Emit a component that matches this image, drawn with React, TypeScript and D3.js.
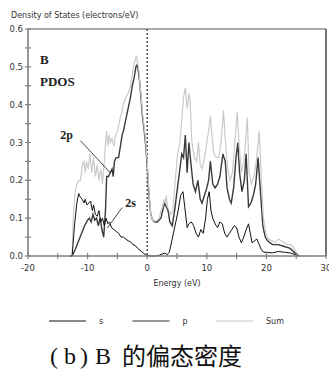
import React, { useEffect, useRef } from 'react';
import * as d3 from 'd3';

// partial DOS of B: [energy eV, electrons/eV]
const sCurve: [number, number][] = [
  [-13, 0], [-12.6, 0], [-12.2, 0.08], [-11.8, 0.14], [-11.5, 0.165], [-11.2, 0.155], [-10.9, 0.15],
  [-10.6, 0.14], [-10.4, 0.15], [-10.1, 0.135], [-9.8, 0.14], [-9.5, 0.145], [-9.2, 0.12], [-9.0, 0.135],
  [-8.7, 0.11], [-8.4, 0.105], [-8.1, 0.12], [-7.8, 0.09], [-7.5, 0.1], [-7.2, 0.08], [-6.9, 0.1],
  [-6.6, 0.085], [-6.3, 0.09], [-6.0, 0.075], [-5.6, 0.07], [-5.2, 0.065], [-4.8, 0.06], [-4.4, 0.05],
  [-4.0, 0.05], [-3.6, 0.045], [-3.2, 0.04], [-2.8, 0.038], [-2.4, 0.03], [-2.0, 0.028], [-1.6, 0.02],
  [-1.2, 0.015], [-0.8, 0.01], [-0.4, 0.005], [0, 0.002], [0.5, 0], [1, 0], [1.5, 0], [2, 0.002],
  [2.5, 0.005], [3, 0.008], [3.3, 0.003], [3.7, 0.01], [4, 0.03], [4.4, 0.06], [4.8, 0.09], [5.2, 0.12],
  [5.6, 0.16], [6.0, 0.17], [6.3, 0.13], [6.7, 0.075], [7.0, 0.085], [7.4, 0.09], [7.8, 0.08], [8.2, 0.06],
  [8.6, 0.05], [9.0, 0.07], [9.4, 0.06], [9.8, 0.1], [10.1, 0.15], [10.4, 0.17], [10.7, 0.12], [11.0, 0.1],
  [11.4, 0.085], [11.8, 0.075], [12.2, 0.09], [12.6, 0.085], [13.0, 0.06], [13.4, 0.05], [13.8, 0.06],
  [14.2, 0.07], [14.6, 0.08], [15.0, 0.075], [15.4, 0.05], [15.8, 0.035], [16.2, 0.05], [16.6, 0.07],
  [17.0, 0.085], [17.3, 0.06], [17.6, 0.035], [18.0, 0.04], [18.4, 0.045], [18.8, 0.03], [19.2, 0.015],
  [19.6, 0.01], [20, 0.01], [21, 0.008], [22, 0.012], [23, 0.01], [24, 0.008], [25, 0.003], [25.5, 0],
];

const pCurve: [number, number][] = [
  [-13, 0], [-12.6, 0], [-12, 0.02], [-11.5, 0.04], [-11, 0.06], [-10.5, 0.08], [-10, 0.095], [-9.7, 0.1],
  [-9.4, 0.09], [-9.1, 0.11], [-8.8, 0.095], [-8.5, 0.1], [-8.2, 0.08], [-7.9, 0.1], [-7.6, 0.07],
  [-7.3, 0.05], [-7.0, 0.12], [-6.8, 0.21], [-6.5, 0.21], [-6.2, 0.22], [-5.9, 0.23], [-5.7, 0.21],
  [-5.5, 0.25], [-5.2, 0.26], [-4.8, 0.26], [-4.5, 0.29], [-4.2, 0.32], [-4.0, 0.33], [-3.6, 0.36],
  [-3.2, 0.39], [-2.8, 0.42], [-2.5, 0.45], [-2.2, 0.47], [-1.9, 0.5], [-1.7, 0.505], [-1.5, 0.49],
  [-1.3, 0.465], [-1.0, 0.41], [-0.8, 0.37], [-0.5, 0.33], [-0.3, 0.3], [0, 0.24], [0.3, 0.16], [0.6, 0.11],
  [0.9, 0.095], [1.3, 0.09], [1.7, 0.09], [2.0, 0.095], [2.3, 0.1], [2.6, 0.12], [2.9, 0.14], [3.2, 0.13],
  [3.5, 0.12], [3.8, 0.09], [4.2, 0.08], [4.6, 0.12], [5.0, 0.17], [5.4, 0.22], [5.8, 0.27], [6.1, 0.26],
  [6.4, 0.32], [6.7, 0.22], [7.0, 0.3], [7.3, 0.25], [7.7, 0.19], [8.1, 0.17], [8.5, 0.2], [8.9, 0.15],
  [9.2, 0.14], [9.6, 0.16], [10.0, 0.18], [10.3, 0.2], [10.6, 0.25], [11.0, 0.19], [11.4, 0.18],
  [11.8, 0.19], [12.2, 0.21], [12.7, 0.27], [13.1, 0.25], [13.4, 0.18], [13.8, 0.15], [14.1, 0.14],
  [14.5, 0.18], [14.9, 0.26], [15.2, 0.3], [15.5, 0.22], [15.9, 0.17], [16.3, 0.2], [16.6, 0.27],
  [17.0, 0.13], [17.4, 0.14], [17.8, 0.16], [18.2, 0.19], [18.6, 0.26], [19.0, 0.17], [19.4, 0.08],
  [19.8, 0.05], [20.2, 0.04], [21, 0.03], [22, 0.03], [23, 0.025], [24, 0.02], [25, 0.005], [25.5, 0],
];

const sumCurve: [number, number][] = [
  [-13, 0], [-12.6, 0], [-12.4, 0.1], [-12.1, 0.17], [-11.8, 0.19], [-11.5, 0.2], [-11.2, 0.2],
  [-10.9, 0.24], [-10.6, 0.25], [-10.4, 0.22], [-10.2, 0.25], [-9.9, 0.23], [-9.6, 0.27], [-9.3, 0.22],
  [-9.0, 0.26], [-8.7, 0.21], [-8.4, 0.24], [-8.1, 0.2], [-7.8, 0.23], [-7.5, 0.19], [-7.2, 0.25],
  [-7.0, 0.3], [-6.8, 0.33], [-6.6, 0.29], [-6.4, 0.32], [-6.2, 0.3], [-5.9, 0.31], [-5.6, 0.29],
  [-5.3, 0.32], [-5.0, 0.33], [-4.6, 0.36], [-4.2, 0.385], [-4.0, 0.4], [-3.6, 0.42], [-3.2, 0.43],
  [-2.8, 0.45], [-2.5, 0.48], [-2.3, 0.5], [-2.0, 0.52], [-1.8, 0.53], [-1.6, 0.51], [-1.4, 0.49],
  [-1.2, 0.45], [-1.0, 0.42], [-0.8, 0.38], [-0.5, 0.34], [-0.3, 0.31], [0, 0.25], [0.3, 0.17], [0.6, 0.11],
  [0.9, 0.095], [1.3, 0.092], [1.7, 0.095], [2.0, 0.1], [2.3, 0.12], [2.6, 0.13], [2.8, 0.15], [3.0, 0.14],
  [3.2, 0.16], [3.4, 0.13], [3.7, 0.12], [4.0, 0.11], [4.3, 0.12], [4.7, 0.2], [5.1, 0.27], [5.5, 0.3],
  [5.8, 0.36], [6.1, 0.42], [6.4, 0.445], [6.7, 0.39], [7.0, 0.43], [7.2, 0.41], [7.5, 0.3], [7.9, 0.26],
  [8.3, 0.25], [8.6, 0.3], [8.9, 0.24], [9.2, 0.23], [9.6, 0.26], [10.0, 0.3], [10.3, 0.33], [10.6, 0.37],
  [10.9, 0.31], [11.2, 0.27], [11.6, 0.26], [12.0, 0.26], [12.4, 0.3], [12.8, 0.385], [13.1, 0.31],
  [13.5, 0.23], [13.9, 0.2], [14.3, 0.22], [14.7, 0.3], [15.1, 0.38], [15.4, 0.3], [15.8, 0.22],
  [16.2, 0.25], [16.5, 0.3], [16.8, 0.365], [17.1, 0.22], [17.5, 0.19], [17.9, 0.21], [18.3, 0.25],
  [18.8, 0.33], [19.1, 0.22], [19.5, 0.1], [19.9, 0.06], [20.3, 0.045], [21, 0.04], [21.5, 0.035],
  [22, 0.045], [22.5, 0.04], [23, 0.035], [23.5, 0.03], [24, 0.03], [24.5, 0.025], [25, 0.01], [25.5, 0],
  [28, 0],
];

const xTicks = [-20, -10, 0, 10, 20, 30];
const xMinorTicks = [-15, -5, 5, 15, 25];
const yTicks = [0, 0.1, 0.2, 0.3, 0.4, 0.5, 0.6];
const yMinorTicks = [0.05, 0.15, 0.25, 0.35, 0.45, 0.55];

const legendItems = [
  { name: 's', color: '#111' },
  { name: 'p', color: '#333' },
  { name: 'Sum', color: '#c8c8c8' },
];

const W = 329;
const H = 372;
const SANS = 'DejaVu Sans, Verdana, sans-serif';
const SERIF = 'Liberation Serif, Times New Roman, serif';

const App: React.FC = () => {
  const ref = useRef<SVGSVGElement>(null);

  useEffect(() => {
    const svg = d3.select(ref.current).attr('width', W).attr('height', H);
    svg.selectAll('*').remove();

    const x = d3.scaleLinear().domain([-20, 30]).range([28, 326]);
    const y = d3.scaleLinear().domain([0, 0.6]).range([256, 29]);

    const line = d3
      .line<[number, number]>()
      .x((d) => x(d[0]))
      .y((d) => y(d[1]));

    // top + right frame
    svg.append('line').attr('x1', x(-20)).attr('x2', x(30)).attr('y1', y(0.6)).attr('y2', y(0.6))
      .attr('stroke', '#555').attr('stroke-width', 1);
    svg.append('line').attr('x1', x(30)).attr('x2', x(30)).attr('y1', y(0.6)).attr('y2', y(0))
      .attr('stroke', '#444').attr('stroke-width', 1.5);

    // fermi level
    svg.append('line').attr('x1', x(0)).attr('x2', x(0)).attr('y1', y(0.6)).attr('y2', y(0))
      .attr('stroke', '#555').attr('stroke-width', 1.5).attr('stroke-dasharray', '2,2');

    // curves
    svg.append('path').datum(pCurve).attr('d', line).attr('fill', 'none')
      .attr('stroke', '#3a3a3a').attr('stroke-width', 1.4);
    svg.append('path').datum(sumCurve).attr('d', line).attr('fill', 'none')
      .attr('stroke', '#cacaca').attr('stroke-width', 1.2);
    svg.append('path').datum(sCurve).attr('d', line).attr('fill', 'none')
      .attr('stroke', '#111').attr('stroke-width', 1);

    // axes
    const axisColor = '#808080';
    svg.append('line').attr('x1', x(-20)).attr('x2', x(-20)).attr('y1', y(0.6)).attr('y2', y(0))
      .attr('stroke', axisColor).attr('stroke-width', 1.6);
    svg.append('line').attr('x1', x(-20)).attr('x2', x(30)).attr('y1', y(0)).attr('y2', y(0))
      .attr('stroke', axisColor).attr('stroke-width', 1.6);

    svg.append('g').selectAll('line').data([...yTicks, ...yMinorTicks]).join('line')
      .attr('x1', x(-20) - 3).attr('x2', x(-20) + 3)
      .attr('y1', (d) => y(d)).attr('y2', (d) => y(d))
      .attr('stroke', axisColor).attr('stroke-width', 1.2);
    svg.append('g').selectAll('line').data([...xTicks, ...xMinorTicks]).join('line')
      .attr('x1', (d) => x(d)).attr('x2', (d) => x(d))
      .attr('y1', y(0) - 3).attr('y2', y(0) + 3)
      .attr('stroke', axisColor).attr('stroke-width', 1.2);

    svg.append('g').selectAll('text').data(yTicks).join('text')
      .attr('x', x(-20) - 5).attr('y', (d) => y(d) + 3)
      .attr('text-anchor', 'end').attr('font-family', SANS).attr('font-size', 8.5).attr('fill', '#333')
      .text((d) => d.toFixed(1));
    svg.append('g').selectAll('text').data(xTicks).join('text')
      .attr('x', (d) => x(d)).attr('y', y(0) + 15)
      .attr('text-anchor', 'middle').attr('font-family', SANS).attr('font-size', 8.5).attr('fill', '#333')
      .text((d) => String(d));

    svg.append('text').attr('x', 11).attr('y', 18).attr('font-family', SANS).attr('font-size', 8)
      .attr('fill', '#333').text('Density of States (electrons/eV)');
    svg.append('text').attr('x', 177).attr('y', 286).attr('text-anchor', 'middle')
      .attr('font-family', SANS).attr('font-size', 8).attr('fill', '#333').text('Energy (eV)');

    // in-plot labels
    svg.append('text').attr('x', 40).attr('y', 64).attr('font-family', SERIF).attr('font-weight', 'bold')
      .attr('font-size', 13).attr('fill', '#222').text('B');
    svg.append('text').attr('x', 40).attr('y', 86).attr('font-family', SERIF).attr('font-weight', 'bold')
      .attr('font-size', 13).attr('fill', '#222').text('PDOS');
    svg.append('text').attr('x', x(-14.6)).attr('y', y(0.31)).attr('font-family', SERIF)
      .attr('font-weight', 'bold').attr('font-size', 12).attr('fill', '#222').text('2p');
    svg.append('text').attr('x', x(-3.7)).attr('y', y(0.13)).attr('font-family', SERIF)
      .attr('font-weight', 'bold').attr('font-size', 12).attr('fill', '#222').text('2s');
    svg.append('line').attr('x1', x(-11.2)).attr('y1', y(0.305)).attr('x2', x(-6.2)).attr('y2', y(0.22))
      .attr('stroke', '#333').attr('stroke-width', 0.9);
    svg.append('line').attr('x1', x(-4.2)).attr('y1', y(0.128)).attr('x2', x(-6.7)).attr('y2', y(0.074))
      .attr('stroke', '#333').attr('stroke-width', 0.9);

    // legend
    const lg = svg.append('g').selectAll('g').data(legendItems).join('g')
      .attr('transform', (_d, i) => `translate(${49 + i * 83.5},321)`);
    lg.append('line').attr('x1', 0).attr('x2', 37).attr('stroke', (d) => d.color).attr('stroke-width', 1);
    lg.append('text').attr('x', 50).attr('y', 3)
      .attr('font-family', SANS).attr('font-size', 8).attr('fill', '#333').text((d) => d.name);

    // caption
    const cap = svg.append('text').attr('y', 364).attr('font-size', 24).attr('fill', '#111');
    cap.append('tspan').attr('x', 50).attr('font-family', SERIF).text('(');
    cap.append('tspan').attr('x', 64).attr('font-family', SERIF).text('b');
    cap.append('tspan').attr('x', 80).attr('font-family', SERIF).text(')');
    cap.append('tspan').attr('x', 95).attr('font-family', SERIF).text('B');
    cap.append('tspan').attr('x', 122).attr('font-family', 'Noto Sans CJK SC').attr('font-size', 24)
      .attr('dy', 1).text('的偏态密度');
  }, []);

  return <svg ref={ref} style={{ position: 'absolute', left: 0, top: 0, display: 'block' }}></svg>;
};

export default App;
